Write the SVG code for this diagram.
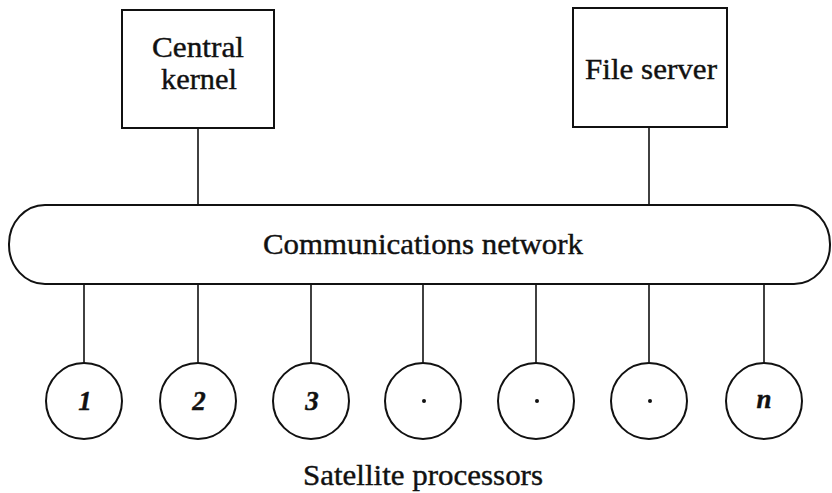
<svg xmlns="http://www.w3.org/2000/svg" width="832" height="493" viewBox="0 0 832 493">
<style>
.box{fill:#fff;stroke:#111;stroke-width:2}
.ln{stroke:#111;stroke-width:1.6;fill:none}
.t{font-family:"Liberation Serif","DejaVu Serif",serif;fill:#111;text-anchor:middle;stroke:#111;stroke-width:0.4}
.lbl{font-size:30px}
.num{font-size:27px;font-style:italic;font-weight:bold}
</style>
<rect width="832" height="493" fill="#fff"/>
<g id="connectors">
<line class="ln" x1="198" y1="128" x2="198" y2="205"/>
<line class="ln" x1="649" y1="127" x2="649" y2="205"/>
<line class="ln" x1="84" y1="284" x2="84" y2="363"/>
<line class="ln" x1="198" y1="284" x2="198" y2="363"/>
<line class="ln" x1="311" y1="284" x2="311" y2="363"/>
<line class="ln" x1="423" y1="284" x2="423" y2="363"/>
<line class="ln" x1="536" y1="284" x2="536" y2="363"/>
<line class="ln" x1="649" y1="284" x2="649" y2="363"/>
<line class="ln" x1="764" y1="284" x2="764" y2="363"/>
</g>
<g id="central-kernel">
<rect class="box" x="122" y="10" width="152" height="118"/>
<text class="t lbl" x="198" y="57" textLength="92" lengthAdjust="spacingAndGlyphs">Central</text>
<text class="t lbl" x="199" y="89" textLength="76" lengthAdjust="spacingAndGlyphs">kernel</text>
</g>
<g id="file-server">
<rect class="box" x="573" y="8" width="154" height="119"/>
<text class="t lbl" x="651" y="79" textLength="132" lengthAdjust="spacingAndGlyphs">File server</text>
</g>
<g id="network">
<rect class="box" x="9" y="205" width="821" height="79" rx="36" ry="39"/>
<text class="t lbl" x="423" y="254" textLength="320" lengthAdjust="spacingAndGlyphs">Communications network</text>
</g>
<g id="p1"><circle class="box" cx="84" cy="401" r="38"/><text class="t num" x="85" y="410">1</text></g>
<g id="p2"><circle class="box" cx="198" cy="401" r="38"/><text class="t num" x="199" y="410">2</text></g>
<g id="p3"><circle class="box" cx="311" cy="401" r="38"/><text class="t num" x="312" y="410">3</text></g>
<g id="p4"><circle class="box" cx="423" cy="401" r="38"/><circle cx="424" cy="401" r="2" fill="#111"/></g>
<g id="p5"><circle class="box" cx="536" cy="401" r="38"/><circle cx="537" cy="401" r="2" fill="#111"/></g>
<g id="p6"><circle class="box" cx="649" cy="401" r="38"/><circle cx="650" cy="401" r="2" fill="#111"/></g>
<g id="pn"><circle class="box" cx="764" cy="401" r="38"/><text class="t num" x="764" y="408">n</text></g>
<text class="t lbl" x="423" y="485" textLength="240" lengthAdjust="spacingAndGlyphs">Satellite processors</text>
</svg>
